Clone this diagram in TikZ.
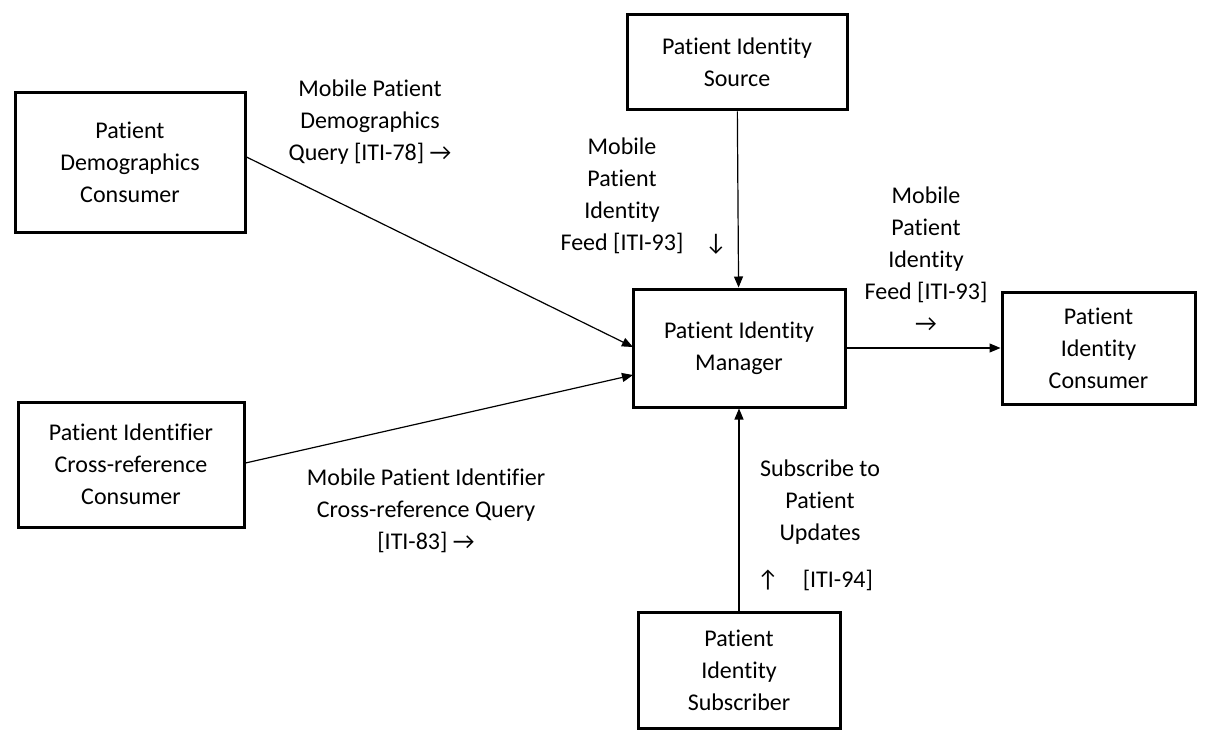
\documentclass[tikz,border=0pt]{standalone}
\usepackage{fontspec}
\setmainfont{Carlito}[Ligatures={NoCommon}]
\usetikzlibrary{arrows.meta}
\begin{document}
\begin{tikzpicture}[x=1pt,y=-1pt,
  box/.style={draw,line width=3pt,align=center,inner sep=0pt},
  lbl/.style={align=center},
  conn/.style={line width=1.2pt,-{Triangle[length=11pt,width=9pt]}},
  every node/.append style={font=\fontsize{24}{32}\selectfont}]
\useasboundingbox (0,0) rectangle (1211,741);
\node[box,minimum width=230pt,minimum height=139pt] (pdc) at (130,162.5) {Patient\\Demographics\\Consumer};
\node[box,minimum width=226pt,minimum height=125pt] (pixc) at (131,464.5) {Patient Identifier\\Cross-reference\\Consumer};
\node[box,minimum width=220pt,minimum height=95pt] (pis) at (737,62.5) {Patient Identity\\Source};
\node[box,minimum width=212pt,minimum height=118pt] (pim) at (739,348) {Patient Identity\\Manager};
\node[box,minimum width=193pt,minimum height=112pt] (pic) at (1098.5,348) {Patient\\Identity\\Consumer};
\node[box,minimum width=202pt,minimum height=116pt] (pisub) at (739,670) {Patient\\Identity\\Subscriber};
\coordinate (a1) at (633,347);
\coordinate (a2) at (633,375);
\draw[conn] (pdc.east|-0,157) -- (a1);
\draw[conn] (pixc.east|-0,463) -- (a2);
\draw[conn] (pis) -- (pim);
\draw[conn] (pim) -- (pic);
\draw[conn] (pisub) -- (pim);
\node[lbl] (l1) at (370,122) {Mobile Patient\\Demographics\\Query [ITI-78] →};
\node[lbl] (l2) at (622,196) {Mobile\\Patient\\Identity\\Feed [ITI-93]};
\node[lbl] (l2b) at (716,244) {↓};
\node[lbl] (l3) at (926,259) {Mobile\\Patient\\Identity\\Feed [ITI-93]\\→};
\node[lbl] (l4) at (426,511) {Mobile Patient Identifier\\Cross-reference Query\\{[ITI-83]} →};
\node[lbl] (l5) at (820,502) {Subscribe to\\Patient\\Updates};
\node[lbl] (l6) at (815,580) {↑\quad[ITI-94]};
\end{tikzpicture}
\end{document}
